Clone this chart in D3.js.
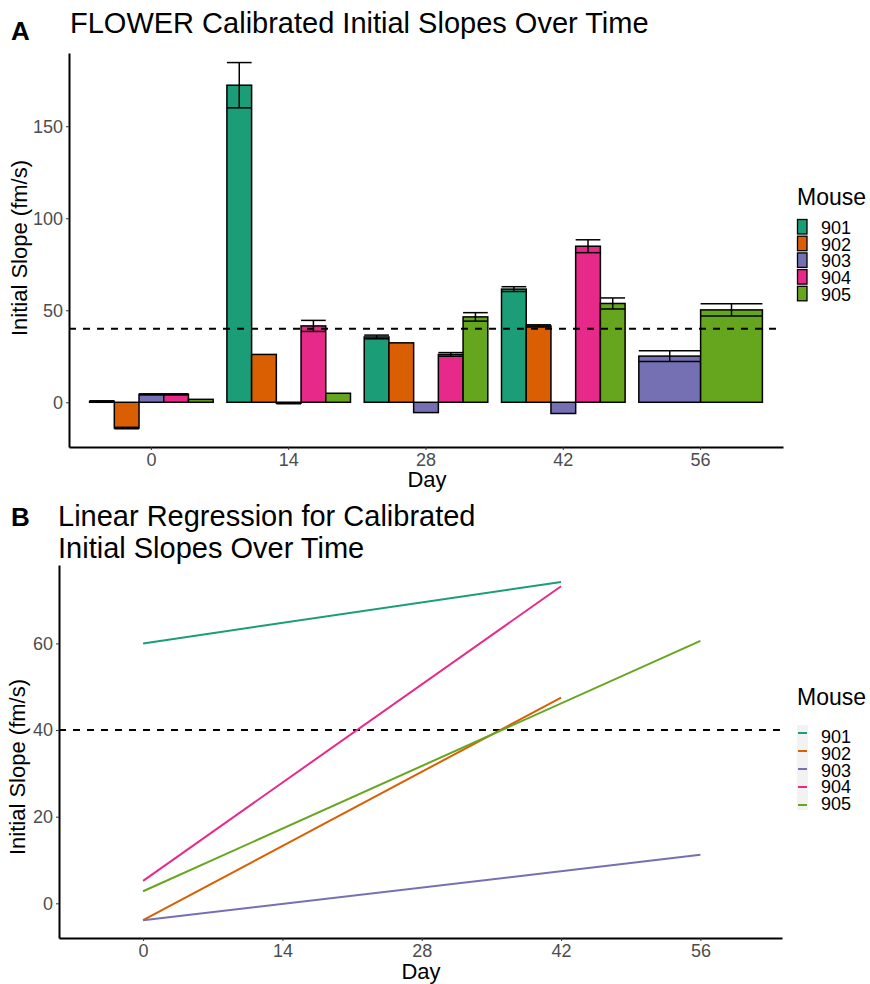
<!DOCTYPE html>
<meta charset="utf-8" />
<head>
  <script src="https://d3js.org/d3.v7.min.js"></script>
  <style>
    body { margin: 0; background: #fff; }
    text { font-family: "Liberation Sans", Arial, sans-serif; }
  </style>
</head>
<body>
  <div id="chart"></div>
</body>
<script>
  // ---- data ----
  const mice = ["901", "902", "903", "904", "905"];
  const colors = ["#1B9E77", "#D95F02", "#7570B3", "#E7298A", "#66A61E"];
  const days = ["0", "14", "28", "42", "56"];
  const threshold = 40;

  // panel A: mean initial slope (fm/s) per day, null = no measurement
  const slope901 = [0.5, 172.3, 35.5, 61.5, null];
  const slope902 = [-14, 26, 32.3, 41.5, null];
  const slope903 = [4.3, -0.5, -5.6, -6.1, 25.1];
  const slope904 = [4.3, 41.5, 26, 84.8, null];
  const slope905 = [1.6, 4.9, 46.4, 53.7, 50.2];
  // standard error, 0 = no error bar
  const se901 = [0.3, 12.3, 1, 1.3, 0];
  const se902 = [0.4, 0, 0, 0.6, 0];
  const se903 = [0.3, 0.3, 0, 0, 2.9];
  const se904 = [0.3, 3, 1, 3.5, 0];
  const se905 = [0, 0, 2.3, 3, 3.3];

  // panel B: regression line end points [day, value]
  const reg901 = [[0, 60], [42, 74.2]];
  const reg902 = [[0, -3.9], [42, 47.5]];
  const reg903 = [[0, -3.9], [56, 11.2]];
  const reg904 = [[0, 5.2], [42, 73.2]];
  const reg905 = [[0, 2.8], [56, 60.6]];

  const yTicksA = [0, 50, 100, 150];
  const yTicksB = [0, 20, 40, 60];
  const xTicksB = [0, 14, 28, 42, 56];

  const slopes = [slope901, slope902, slope903, slope904, slope905];
  const ses = [se901, se902, se903, se904, se905];
  const regs = [reg901, reg902, reg903, reg904, reg905];

  const color = d3.scaleOrdinal().domain(mice).range(colors);

  const svg = d3
    .select("#chart")
    .append("svg")
    .attr("width", 870)
    .attr("height", 984);

  const tickGrey = "#4D4D4D";

  // ================= panel A =================
  const A = { left: 69, right: 783, top: 53, bottom: 447 };
  // discrete axis with 0.6 step expansion at each end
  const xA = d3.scaleBand().domain(days).range([A.left, A.right]).paddingOuter(0.1).paddingInner(0);
  const yA = d3.scaleLinear().domain([-24.3, 189.8]).range([A.bottom, A.top]);
  const groupW = xA.step() * 0.9;

  const barsA = [];
  days.forEach((day, di) => {
    const present = mice.filter((m, mi) => slopes[mi][di] != null);
    const w = groupW / present.length;
    present.forEach((m, k) => {
      const mi = mice.indexOf(m);
      const cx = xA(day) + xA.bandwidth() / 2;
      barsA.push({
        mouse: m,
        x0: cx - groupW / 2 + k * w,
        w: w,
        v: slopes[mi][di],
        se: ses[mi][di],
      });
    });
  });

  const gA = svg.append("g");

  gA.selectAll("rect.bar")
    .data(barsA)
    .join("rect")
    .attr("class", "bar")
    .attr("x", (d) => d.x0)
    .attr("width", (d) => d.w)
    .attr("y", (d) => yA(Math.max(0, d.v)))
    .attr("height", (d) => Math.abs(yA(d.v) - yA(0)))
    .attr("fill", (d) => color(d.mouse))
    .attr("stroke", "#000")
    .attr("stroke-width", 1.5);

  const errs = barsA.filter((d) => d.se > 0);
  const eg = gA.selectAll("g.err").data(errs).join("g").attr("class", "err")
    .attr("stroke", "#000").attr("stroke-width", 1.5);
  eg.append("line")
    .attr("x1", (d) => d.x0 + d.w / 2).attr("x2", (d) => d.x0 + d.w / 2)
    .attr("y1", (d) => yA(d.v - d.se)).attr("y2", (d) => yA(d.v + d.se));
  eg.append("line")
    .attr("x1", (d) => d.x0).attr("x2", (d) => d.x0 + d.w)
    .attr("y1", (d) => yA(d.v - d.se)).attr("y2", (d) => yA(d.v - d.se));
  eg.append("line")
    .attr("x1", (d) => d.x0).attr("x2", (d) => d.x0 + d.w)
    .attr("y1", (d) => yA(d.v + d.se)).attr("y2", (d) => yA(d.v + d.se));

  gA.append("line")
    .attr("x1", A.left).attr("x2", A.right)
    .attr("y1", yA(threshold)).attr("y2", yA(threshold))
    .attr("stroke", "#000").attr("stroke-width", 2).attr("stroke-dasharray", "7,7");

  function styleAxis(g) {
    g.selectAll("path.domain").attr("stroke", "#000").attr("stroke-width", 2);
    g.selectAll(".tick line").attr("stroke", "#333");
    g.selectAll(".tick text").attr("fill", tickGrey).style("font-size", "18px")
      .style("font-family", '"Liberation Sans", Arial, sans-serif');
  }

  gA.append("g")
    .attr("transform", "translate(0," + A.bottom + ")")
    .call(d3.axisBottom(xA).tickSizeInner(3).tickSizeOuter(0).tickPadding(3))
    .call(styleAxis);
  gA.append("g")
    .attr("transform", "translate(" + A.left + ",0)")
    .call(d3.axisLeft(yA).tickValues(yTicksA).tickSizeInner(3).tickSizeOuter(0).tickPadding(3))
    .call(styleAxis);

  gA.append("text").attr("x", 11).attr("y", 40).text("A")
    .style("font-size", "26px").style("font-weight", "bold");
  gA.append("text").attr("x", 70).attr("y", 33).text("FLOWER Calibrated Initial Slopes Over Time")
    .style("font-size", "29px");
  gA.append("text").attr("x", 427).attr("y", 487)
    .attr("text-anchor", "middle").text("Day").style("font-size", "22px");
  gA.append("text")
    .attr("transform", "translate(27," + 248 + ") rotate(-90)")
    .attr("text-anchor", "middle").text("Initial Slope (fm/s)").style("font-size", "22px");

  // legend A
  const legA = gA.append("g").attr("transform", "translate(797,0)");
  legA.append("text").attr("x", 0).attr("y", 205).text("Mouse").style("font-size", "23px");
  mice.forEach((m, i) => {
    legA.append("rect").attr("x", 0.5).attr("y", 219.5 + i * 16.7)
      .attr("width", 9.5).attr("height", 14.5)
      .attr("fill", color(m)).attr("stroke", "#000").attr("stroke-width", 1.3);
    legA.append("text").attr("x", 24).attr("y", 234 + i * 16.7).text(m).style("font-size", "18px");
  });

  // ================= panel B =================
  const B = { left: 59, right: 782, top: 565, bottom: 938 };
  const xB = d3.scaleLinear().domain([-8.45, 64.2]).range([B.left, B.right]);
  const yB = d3.scaleLinear().domain([-8.0, 78.1]).range([B.bottom, B.top]);
  const gB = svg.append("g");

  gB.append("line")
    .attr("x1", B.left).attr("x2", B.right)
    .attr("y1", yB(threshold)).attr("y2", yB(threshold))
    .attr("stroke", "#000").attr("stroke-width", 2).attr("stroke-dasharray", "7,7");

  const line = d3.line().x((d) => xB(d[0])).y((d) => yB(d[1]));
  gB.selectAll("path.reg")
    .data(regs)
    .join("path")
    .attr("class", "reg")
    .attr("d", line)
    .attr("fill", "none")
    .attr("stroke", (d, i) => colors[i])
    .attr("stroke-width", 2);

  gB.append("g")
    .attr("transform", "translate(0," + B.bottom + ")")
    .call(d3.axisBottom(xB).tickValues(xTicksB).tickSizeInner(3).tickSizeOuter(0).tickPadding(3))
    .call(styleAxis);
  gB.append("g")
    .attr("transform", "translate(" + B.left + ",0)")
    .call(d3.axisLeft(yB).tickValues(yTicksB).tickSizeInner(3).tickSizeOuter(0).tickPadding(3))
    .call(styleAxis);

  gB.append("text").attr("x", 11).attr("y", 526).text("B")
    .style("font-size", "26px").style("font-weight", "bold");
  gB.append("text").attr("x", 58).attr("y", 526).text("Linear Regression for Calibrated")
    .style("font-size", "29px");
  gB.append("text").attr("x", 58).attr("y", 558).text("Initial Slopes Over Time")
    .style("font-size", "29px");
  gB.append("text").attr("x", 421).attr("y", 979)
    .attr("text-anchor", "middle").text("Day").style("font-size", "22px");
  gB.append("text")
    .attr("transform", "translate(25," + 767 + ") rotate(-90)")
    .attr("text-anchor", "middle").text("Initial Slope (fm/s)").style("font-size", "22px");

  // legend B
  const legB = gB.append("g").attr("transform", "translate(797,0)");
  legB.append("text").attr("x", 0).attr("y", 705).text("Mouse").style("font-size", "23px");
  legB.append("rect").attr("x", 0).attr("y", 725).attr("width", 11).attr("height", 85)
    .attr("fill", "#F2F2F2");
  mice.forEach((m, i) => {
    legB.append("line").attr("x1", 1).attr("x2", 10)
      .attr("y1", 733 + i * 18).attr("y2", 733 + i * 18)
      .attr("stroke", color(m)).attr("stroke-width", 2);
    legB.append("text").attr("x", 24).attr("y", 743 + i * 16.8).text(m).style("font-size", "18px");
  });
</script>
